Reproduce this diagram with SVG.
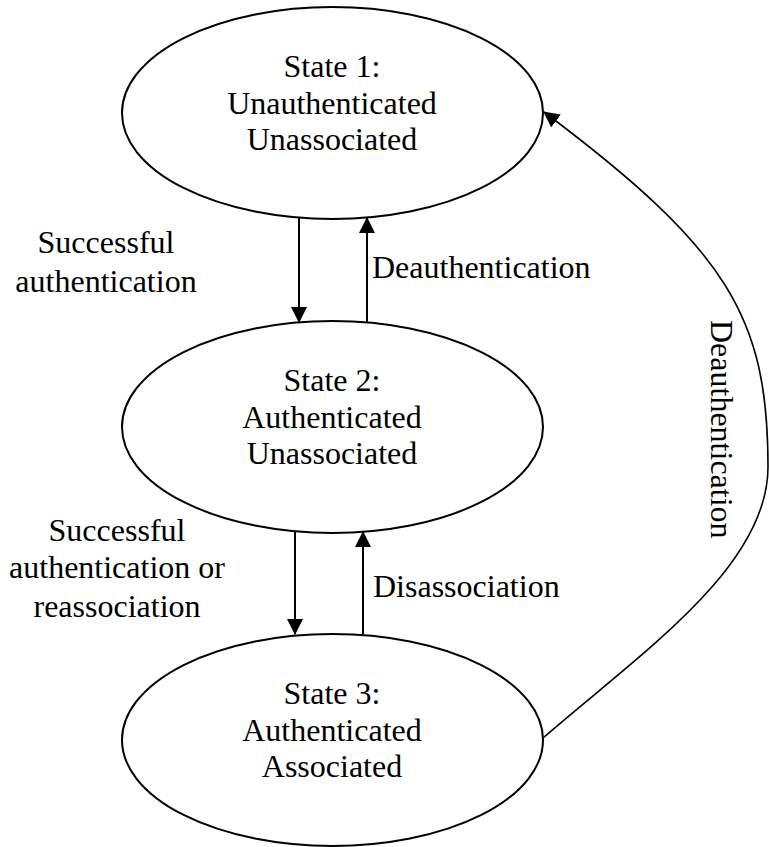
<svg xmlns="http://www.w3.org/2000/svg" width="769" height="847" viewBox="0 0 769 847">
<style>
  .state { fill: #ffffff; stroke: #000000; stroke-width: 2; }
  .lbl { font-family: "Liberation Serif", "Times New Roman", serif; font-size: 32px; fill: #000000; }
  .mid { text-anchor: middle; }
  .edge { fill: none; stroke: #000000; stroke-width: 2; }
  .curve { fill: none; stroke: #000000; stroke-width: 1.6; }
</style>
<defs>
  <marker id="ah" markerUnits="userSpaceOnUse" markerWidth="16" markerHeight="16" refX="15" refY="8" orient="auto" viewBox="0 0 16 16">
    <path d="M0,0 L16,8 L0,16 z" fill="#000000"/>
  </marker>
</defs>
<rect width="769" height="847" fill="#ffffff"/>
<g id="state1">
  <ellipse class="state" cx="332.5" cy="113" rx="210.5" ry="106"/>
  <text class="lbl mid" x="332" y="77">State 1:</text>
  <text class="lbl mid" x="332" y="114">Unauthenticated</text>
  <text class="lbl mid" x="332" y="150">Unassociated</text>
</g>
<g id="state2">
  <ellipse class="state" cx="332.5" cy="427" rx="210.5" ry="106"/>
  <text class="lbl mid" x="332" y="391">State 2:</text>
  <text class="lbl mid" x="332" y="428">Authenticated</text>
  <text class="lbl mid" x="332" y="464">Unassociated</text>
</g>
<g id="state3">
  <ellipse class="state" cx="332.5" cy="740" rx="210.5" ry="106"/>
  <text class="lbl mid" x="332" y="704">State 3:</text>
  <text class="lbl mid" x="332" y="741">Authenticated</text>
  <text class="lbl mid" x="332" y="777">Associated</text>
</g>
<g id="connectors">
  <line class="edge" x1="299" y1="218" x2="299" y2="322" marker-end="url(#ah)"/>
  <line class="edge" x1="367" y1="322" x2="367" y2="218" marker-end="url(#ah)"/>
  <line class="edge" x1="295" y1="532" x2="295" y2="634" marker-end="url(#ah)"/>
  <line class="edge" x1="363" y1="634" x2="363" y2="532" marker-end="url(#ah)"/>
  <path class="curve" d="M543,738 C641,653 768,567 768,467 C768,317 728,250 544,112" marker-end="url(#ah)"/>
</g>
<g id="edge-labels">
  <text class="lbl mid" x="106" y="253">Successful</text>
  <text class="lbl mid" x="106" y="292">authentication</text>
  <text class="lbl" x="372" y="278">Deauthentication</text>
  <text class="lbl mid" x="117" y="541">Successful</text>
  <text class="lbl mid" x="117" y="578">authentication or</text>
  <text class="lbl mid" x="117" y="617">reassociation</text>
  <text class="lbl" x="373" y="597">Disassociation</text>
  <text class="lbl" transform="translate(711,320) rotate(90)" x="0" y="0">Deauthentication</text>
</g>
</svg>
